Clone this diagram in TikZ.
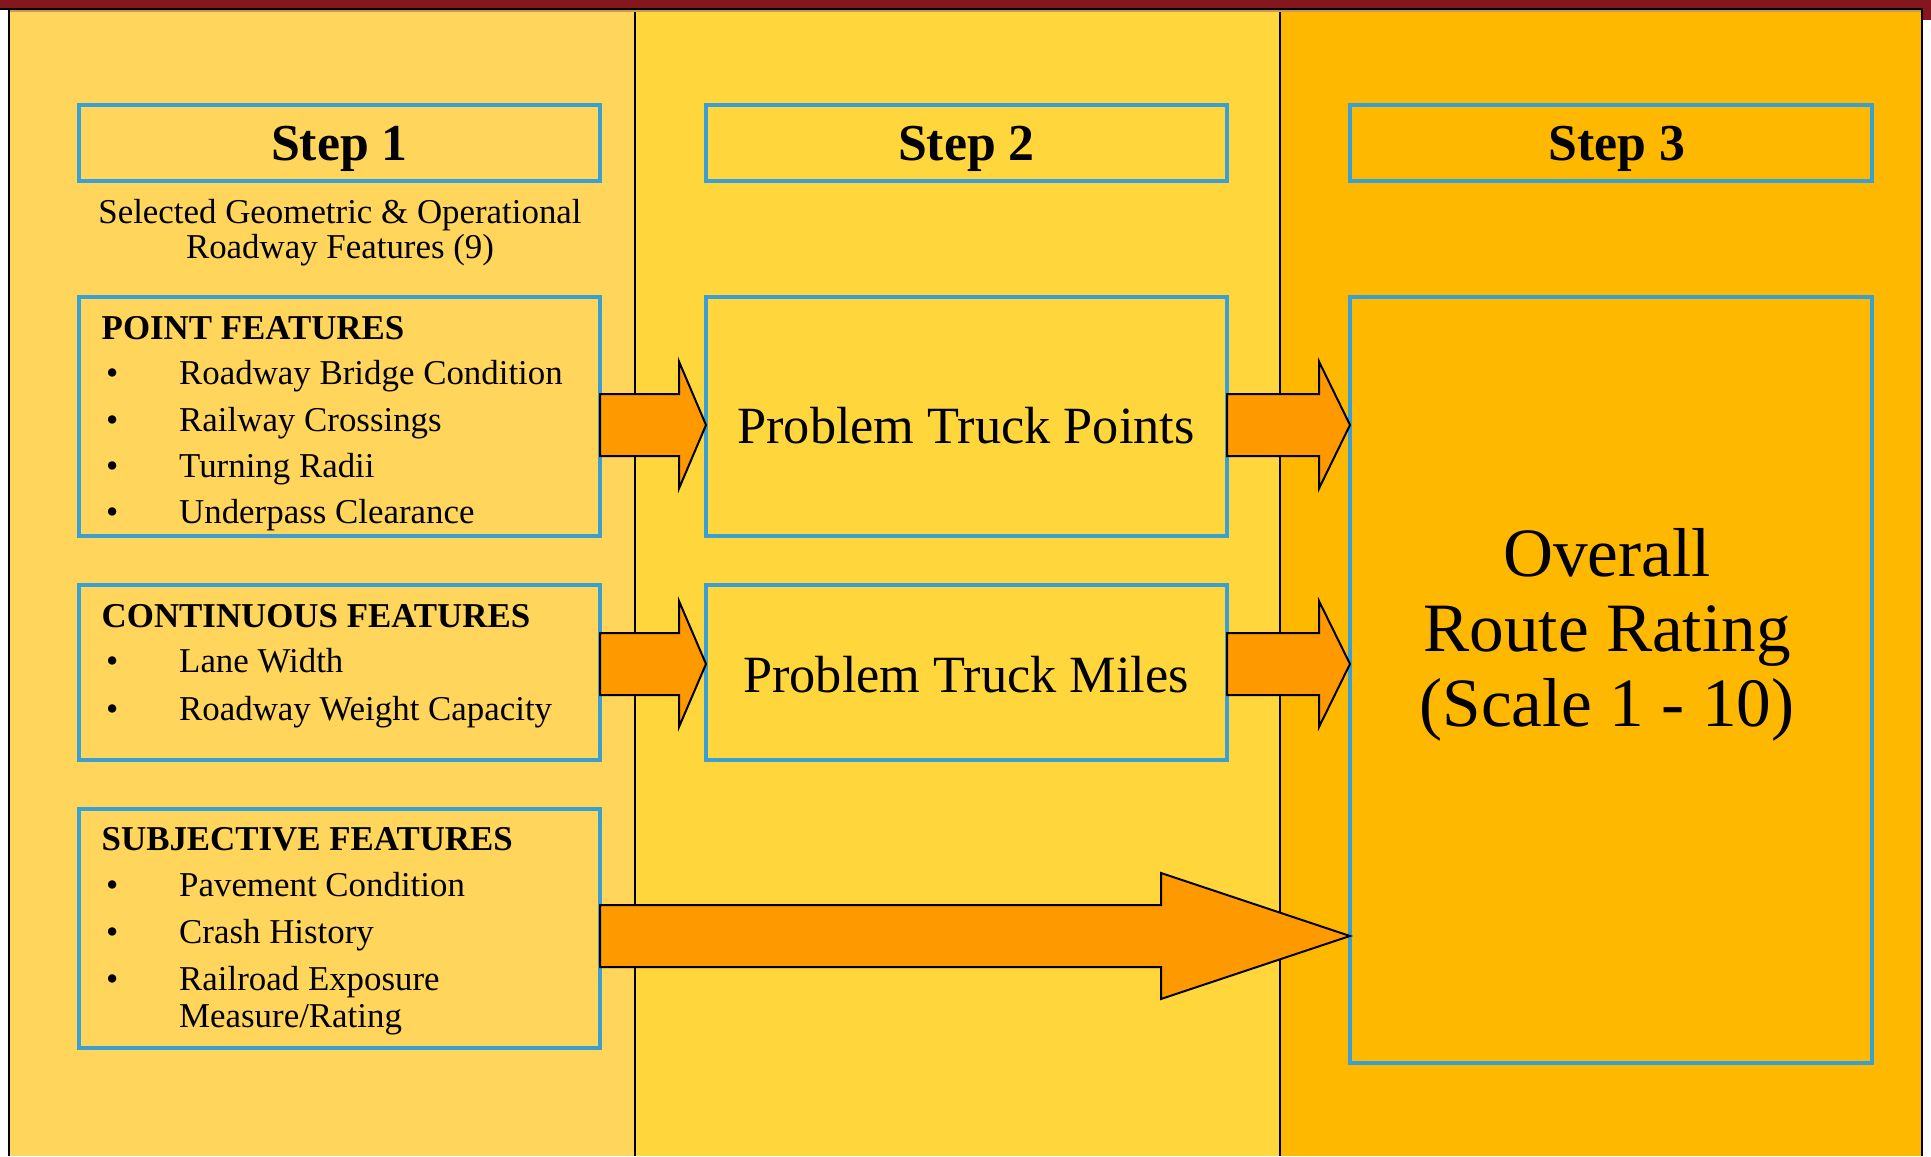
\documentclass[tikz,border=0pt]{standalone}
\usepackage{fontspec}
\setmainfont{Liberation Serif}
\usetikzlibrary{calc}
\definecolor{colA}{HTML}{FFD55C}
\definecolor{colB}{HTML}{FFD63C}
\definecolor{colC}{HTML}{FFB800}
\definecolor{boxblue}{HTML}{3A9FD5}
\definecolor{arrowor}{HTML}{FF9900}
\definecolor{topred}{HTML}{84161E}
\definecolor{shadetan}{HTML}{C89A55}
% block arrow: from node, to node, y centre, shaft half, head half, head length
\newcommand\blockarr[6]{%
  \draw[arrowbox] let \p1=(#1.east), \p2=(#2.west) in
    (\x1,{-(#3-#4)*1bp}) -- ({\x2-#6*1bp},{-(#3-#4)*1bp}) --
    ({\x2-#6*1bp},{-(#3-#5)*1bp}) -- (\x2,{-#3*1bp}) --
    ({\x2-#6*1bp},{-(#3+#5)*1bp}) -- ({\x2-#6*1bp},{-(#3+#4)*1bp}) --
    (\x1,{-(#3+#4)*1bp}) -- cycle;}
\begin{document}
\begin{tikzpicture}[x=1bp,y=1bp,
  box/.style={draw=boxblue, line width=4bp, outer sep=0pt, inner sep=0pt, anchor=north west},
  arrowbox/.style={draw=black, fill=arrowor, line width=2bp, line join=miter},
  steptxt/.style={font=\fontsize{52}{60}\selectfont\bfseries, text depth=0pt},
  hdr/.style={anchor=base west, font=\fontsize{35}{40}\selectfont\bfseries, inner sep=0pt},
  item/.style={anchor=base west, font=\fontsize{35}{40}\selectfont, inner sep=0pt},
  bul/.style={anchor=base west, font=\fontsize{35}{40}\selectfont, inner sep=0pt},
  bigtxt/.style={font=\fontsize{52.5}{60}\selectfont, text depth=0pt}
]
\useasboundingbox (0,0) rectangle (1931,-1156);
\fill[white] (0,0) rectangle (1931,-1156);
% columns
\fill[colA] (9,-9) rectangle (635,-1156);
\fill[colB] (635,-9) rectangle (1280,-1156);
\fill[colC] (1280,-9) rectangle (1922,-1156);
\draw[black, line width=1.5bp] (635,-9) -- (635,-1156);
\draw[black, line width=1.5bp] (1280,-9) -- (1280,-1156);
% frame
\fill[topred] (0,0) rectangle (1931,-8);
\fill[topred] (1922,0) rectangle (1931,-20);
\draw[shadetan, line width=2bp] (10,-11) -- (1921,-11);
\draw[black, line width=1.8bp] (0,-8.6) -- (1923,-8.6);
\draw[black, line width=2bp] (9,-8) -- (9,-1156);
\draw[black, line width=2bp] (1922,-8) -- (1922,-1156);

% step headers
\node[box, minimum width=521bp, minimum height=76bp, steptxt] (s1) at (79,-105) {Step 1};
\node[box, minimum width=521bp, minimum height=76bp, steptxt] (s2) at (706,-105) {Step 2};
\node[box, minimum width=522bp, minimum height=76bp, steptxt] (s3) at (1350,-105) {\hspace*{12bp}Step 3};

\node[font=\fontsize{35}{35}\selectfont, align=center, inner sep=0pt] (sub) at (340,-233)
  {Selected Geometric \& Operational\\Roadway Features (9)};

% feature boxes
\node[box, minimum width=521bp, minimum height=239bp] (pf) at (79,-297) {};
\node[box, minimum width=521bp, minimum height=175bp] (cf) at (79,-585) {};
\node[box, minimum width=521bp, minimum height=239bp] (sf) at (79,-809) {};

\node[hdr] (pfh) at (101.5,-339) {POINT FEATURES};
\node[bul] (pb1) at (106,-384) {•};
\node[item] (pi1) at (179,-384) {Roadway Bridge Condition};
\node[bul] (pb2) at (106,-431) {•};
\node[item] (pi2) at (179,-431) {Railway Crossings};
\node[bul] (pb3) at (106,-477) {•};
\node[item] (pi3) at (179,-477) {Turning Radii};
\node[bul] (pb4) at (106,-523) {•};
\node[item] (pi4) at (179,-523) {Underpass Clearance};

\node[hdr] (cfh) at (101.5,-627) {CONTINUOUS FEATURES};
\node[bul] (cb1) at (106,-672) {•};
\node[item] (ci1) at (179,-672) {Lane Width};
\node[bul] (cb2) at (106,-720) {•};
\node[item] (ci2) at (179,-720) {Roadway Weight Capacity};

\node[hdr] (sfh) at (101.5,-850) {SUBJECTIVE FEATURES};
\node[bul] (sb1) at (106,-896) {•};
\node[item] (si1) at (179,-896) {Pavement Condition};
\node[bul] (sb2) at (106,-943) {•};
\node[item] (si2) at (179,-943) {Crash History};
\node[bul] (sb3) at (106,-990) {•};
\node[item] (si3) at (179,-990) {Railroad Exposure};
\node[item] (si4) at (179,-1027) {Measure/Rating};

% step 2 boxes
\node[box, minimum width=521bp, minimum height=239bp] (ptp) at (706,-297) {};
\node[bigtxt] (ptpt) at (966,-425) {Problem Truck Points};
\node[box, minimum width=521bp, minimum height=175bp] (ptm) at (706,-585) {};
\node[bigtxt] (ptmt) at (966,-674) {Problem Truck Miles};

% step 3 box
\node[box, minimum width=522bp, minimum height=766bp] (orr) at (1350,-297) {};
\node[font=\fontsize{69.5}{75}\selectfont, align=center, inner sep=0pt] (orrt) at (1607,-635)
  {Overall\\Route Rating\\(Scale 1 - 10)};

% arrows
\blockarr{pf}{ptp}{425}{31}{63.5}{27}
\blockarr{ptp}{orr}{425}{31}{63.5}{31}
\blockarr{cf}{ptm}{664}{31}{63}{27}
\blockarr{ptm}{orr}{664}{31}{63}{31}
\blockarr{sf}{orr}{936}{31}{63}{189}
\end{tikzpicture}
\end{document}
